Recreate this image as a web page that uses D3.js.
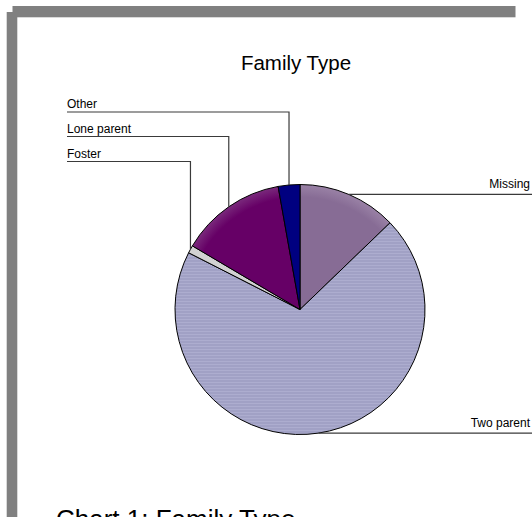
<!DOCTYPE html>
<html>
<head>
<meta charset="utf-8">
<script src="https://cdn.jsdelivr.net/npm/d3@7"></script>
<style>
html,body{margin:0;padding:0;background:#fff;overflow:hidden;}
svg{display:block;}
text{font-family:Arial,"Liberation Sans",sans-serif;}
</style>
</head>
<body>
<script>
// ---- data ----
const categories = ["Missing", "Two parent", "Foster", "Lone parent", "Other"];
const values = [12.8, 69.7, 1.0, 13.7, 2.8];
const colors = ["#876c95", "#a9a9cb", "#d2d2d2", "#660066", "#000080"];
const chartTitle = "Family Type";
const caption = "Chart 1: Family Type";

const W = 532, H = 517;
const cx = 300, cy = 309.5, R = 125;

const svg = d3.select("body").append("svg").attr("width", W).attr("height", H);
const defs = svg.append("defs");

// striped texture for the large slice
const pat = defs.append("pattern").attr("id", "stripes")
  .attr("patternUnits", "userSpaceOnUse").attr("width", 8).attr("height", 3);
pat.append("rect").attr("width", 8).attr("height", 3).attr("fill", "#adadcf");
pat.append("rect").attr("y", 2).attr("width", 8).attr("height", 1).attr("fill", "#9494ba");

// rim highlights for other slices (coordinates relative to the pie's group)
function rimGrad(id, inner, outer) {
  const g = defs.append("radialGradient").attr("id", id)
    .attr("gradientUnits", "userSpaceOnUse").attr("cx", 0).attr("cy", 0).attr("r", R);
  g.append("stop").attr("offset", "0.9").attr("stop-color", inner);
  g.append("stop").attr("offset", "1").attr("stop-color", outer);
}
rimGrad("g0", colors[0], "#9a82a6");
rimGrad("g3", colors[3], "#7a2a7c");

const fills = ["url(#g0)", "url(#stripes)", colors[2], "url(#g3)", colors[4]];

// frame (grey bars)
svg.append("rect").attr("x", 12.5).attr("y", 6).attr("width", 503).attr("height", 11.3).attr("fill", "#808080");
svg.append("rect").attr("x", 6.7).attr("y", 12).attr("width", 10.6).attr("height", H - 12).attr("fill", "#808080");

// title
svg.append("text").attr("x", 296).attr("y", 69.5).attr("text-anchor", "middle")
  .attr("font-size", 20.5).attr("fill", "#000").text(chartTitle);

// pie
const pie = d3.pie().sort(null).value(d => d.v).startAngle(0).endAngle(2 * Math.PI);
const data = categories.map((c, i) => ({ c, v: values[i], i }));
const arcs = pie(data);
const arc = d3.arc().innerRadius(0).outerRadius(R);

const g = svg.append("g").attr("transform", `translate(${cx},${cy})`);
g.selectAll("path").data(arcs).join("path")
  .attr("d", arc)
  .attr("fill", d => fills[d.data.i])
  .attr("stroke", "#000").attr("stroke-width", 1).attr("stroke-linejoin", "round");

// leader lines + labels
const rimPoint = d => {
  const a = (d.startAngle + d.endAngle) / 2;
  return [cx + R * Math.sin(a), cy - R * Math.cos(a)];
};
const leftRows = { "Other": 112, "Lone parent": 136.5, "Foster": 161.5 };
const lineColor = "#3a3a3a";
const labelSize = 12;

arcs.forEach(d => {
  const [px, py] = rimPoint(d);
  const name = d.data.c;
  if (leftRows[name] !== undefined) {
    const ly = leftRows[name];
    svg.append("path")
      .attr("d", `M${px},${py}V${ly}H67`)
      .attr("fill", "none").attr("stroke", lineColor).attr("stroke-width", 1.2);
    svg.append("text").attr("x", 67).attr("y", ly - 4).attr("font-size", labelSize)
      .attr("fill", "#000").text(name);
  } else {
    svg.append("path")
      .attr("d", `M${px},${py}H${W}`)
      .attr("fill", "none").attr("stroke", lineColor).attr("stroke-width", 1.2);
    svg.append("text").attr("x", 530).attr("y", py - 6).attr("text-anchor", "end")
      .attr("font-size", labelSize).attr("fill", "#000").text(name);
  }
});

// caption (cut off at bottom, as in the reference)
svg.append("text").attr("x", 56).attr("y", 528).attr("font-size", 26)
  .attr("fill", "#000").text(caption);
</script>
</body>
</html>
